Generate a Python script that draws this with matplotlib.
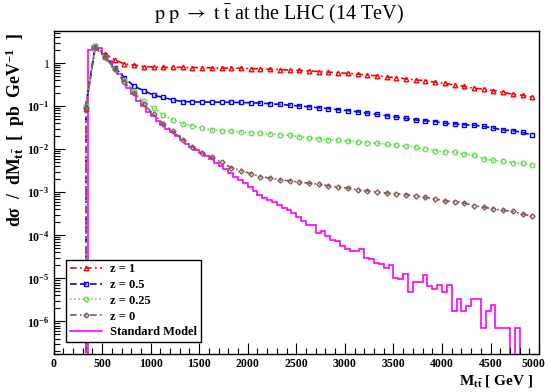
import matplotlib
matplotlib.use('Agg')
import matplotlib.pyplot as plt
import numpy as np
from matplotlib.ticker import FixedLocator, MultipleLocator, NullFormatter, FuncFormatter

plt.rcParams['font.family'] = ['Liberation Serif', 'DejaVu Serif']
plt.rcParams['mathtext.fontset'] = 'custom'
plt.rcParams['mathtext.rm'] = 'Liberation Serif:bold'
plt.rcParams['mathtext.it'] = 'Liberation Serif:bold'
plt.rcParams['mathtext.bf'] = 'Liberation Serif:bold'

# z curves: one point per 100 GeV
mass_z = np.arange(330, 5000, 100)
z1 = [0.085, 2.45, 1.65, 1.2, 0.95, 0.91, 0.83, 0.82, 0.80, 0.80,
      0.80, 0.79, 0.79, 0.78, 0.77, 0.77, 0.76, 0.75, 0.74, 0.72,
      0.71, 0.69, 0.68, 0.66, 0.64, 0.62, 0.60, 0.58, 0.56, 0.53,
      0.51, 0.48, 0.46, 0.43, 0.41, 0.39, 0.36, 0.34, 0.31, 0.29,
      0.26, 0.25, 0.23, 0.21, 0.19, 0.18, 0.16]
z05 = [0.098, 2.5, 1.42, 0.79, 0.46, 0.29, 0.23, 0.18, 0.16, 0.14,
       0.128, 0.126, 0.125, 0.124, 0.124, 0.123, 0.122, 0.120, 0.118, 0.114,
       0.110, 0.106, 0.101, 0.097, 0.092, 0.088, 0.083, 0.079, 0.074, 0.069,
       0.065, 0.060, 0.056, 0.052, 0.048, 0.0455, 0.044, 0.040, 0.039, 0.037,
       0.036, 0.034, 0.031, 0.028, 0.027, 0.0245, 0.0215]
z025 = [0.1, 2.45, 1.4, 0.75, 0.41, 0.22, 0.13, 0.09, 0.063, 0.048,
        0.039, 0.035, 0.031, 0.028, 0.027, 0.026, 0.025, 0.024, 0.0235, 0.0226,
        0.022, 0.021, 0.0195, 0.0185, 0.0175, 0.0167, 0.016, 0.0156, 0.015, 0.0143,
        0.0138, 0.013, 0.0124, 0.0118, 0.0112, 0.0102, 0.0093, 0.0088, 0.0086, 0.0077,
        0.0072, 0.006, 0.0055, 0.0052, 0.0049, 0.0047, 0.0043]
z0 = [0.09, 2.3, 1.4, 0.72, 0.36, 0.2, 0.11, 0.065, 0.039, 0.026,
      0.0164, 0.0115, 0.0081, 0.0065, 0.005, 0.0037, 0.0032, 0.0027, 0.0023, 0.00214,
      0.00192, 0.00186, 0.00171, 0.00163, 0.00154, 0.00141, 0.00132, 0.00125, 0.00115, 0.00108,
      0.00101, 0.00096, 0.00093, 0.00088, 0.00083, 0.00076, 0.0007, 0.00063, 0.00061, 0.00056,
      0.00049, 0.00045, 0.00041, 0.00038, 0.00036, 0.00031, 0.00028]

# Standard Model histogram, 50 GeV bins from 350 to 5000
sm_edges = np.arange(350, 5001, 50)
sm = [2.0, 2.5, 2.2, 1.6, 1.15, 0.8, 0.55, 0.38, 0.27, 0.19,
      0.135, 0.1, 0.075, 0.058, 0.046, 0.037, 0.030, 0.025, 0.020, 0.0165,
      0.0135, 0.0115, 0.0095, 0.0080, 0.0068, 0.0058, 0.0049, 0.0041, 0.0034, 0.0028,
      0.0023, 0.0019, 0.0016, 0.0013, 0.0011, 0.00085, 0.00072, 0.00066, 0.00058, 0.0005,
      0.00043, 0.00039, 0.00033, 0.00026, 0.00022, 1.74e-4, 1.74e-4, 1.15e-4, 1.27e-4, 9.7e-5,
      7.8e-5, 7.3e-5, 5.6e-5, 4.7e-5, 4.3e-5, 4.3e-5, 4.8e-5, 3.0e-5, 2.8e-5, 2.3e-5,
      2.2e-5, 1.7e-5, 2.0e-5, 1.0e-5, 9.5e-6, 1.26e-5, 4.7e-6, 8.1e-6, 8.1e-6, 1.2e-5,
      6.5e-6, 5.7e-6, 6.9e-6, 4.7e-6, 6.9e-6, 1.7e-6, 3.3e-6, 1.7e-6, 2.3e-6, 3.3e-6,
      3.3e-6, 7.2e-7, 1.7e-6, 2.4e-6, 7.2e-7, 7.2e-7, 7.2e-7, 0, 7.2e-7, 0,
      0, 0, 0]

ytick_vals = [1e-6, 1e-5, 1e-4, 1e-3, 1e-2, 1e-1, 1]
ytick_labels = ['$10^{-6}$', '$10^{-5}$', '$10^{-4}$', '$10^{-3}$', '$10^{-2}$', '$10^{-1}$', '1']

xmax = 5000
ymin, ymax = 1.75e-7, 5.6

fig = plt.figure(figsize=(5.49, 3.92), dpi=100)
ax = fig.add_axes([0.0975, 0.097, 0.8845, 0.824])

curves = [
    (z1, 'z = 1', '#ff0000', (0, (4, 2, 1, 2)), '^'),
    (z05, 'z = 0.5', '#0000ff', (0, (4, 2)), 's'),
    (z025, 'z = 0.25', '#66dd55', (0, (1, 1.5)), 'o'),
    (z0, 'z = 0', '#8b5a5a', (0, (4, 2, 1, 2, 1, 2)), 'D'),
]
for vals, lab, col, ls, mk in curves:
    ax.plot(mass_z, vals, color=col, ls=ls, lw=1.2, marker=mk,
            ms=3.3 if mk != 'D' else 2.6, mfc='none', mec=col, mew=1.0, label=lab)
    ax.vlines(mass_z[0], ymin * 0.1, vals[0], colors=col, linestyles=ls, lw=1.2)

sm_plot = np.where(np.array(sm) > 0, sm, 1e-12)
ax.stairs(sm_plot, sm_edges, baseline=1e-12, color='#ff00ff', lw=1.2, label='Standard Model')

ax.set_yscale('log')
ax.set_xlim(0, xmax)
ax.set_ylim(ymin, ymax)

ax.yaxis.set_major_locator(FixedLocator(ytick_vals))
ax.set_yticklabels(ytick_labels)
ax.yaxis.set_minor_locator(matplotlib.ticker.LogLocator(base=10, subs=np.arange(2, 10)))
ax.yaxis.set_minor_formatter(NullFormatter())
ax.xaxis.set_major_locator(MultipleLocator(500))
ax.xaxis.set_minor_locator(MultipleLocator(100))
# last label (5000) is drawn separately so it stays inside the canvas
ax.xaxis.set_major_formatter(FuncFormatter(lambda v, p: '' if v >= xmax else '%d' % v))

ax.tick_params(which='both', direction='in', top=False, right=False, labelsize=8.5)
ax.tick_params(which='major', length=8, width=0.8, pad=3)
ax.tick_params(which='minor', length=4, width=0.8)
for lbl in ax.get_xticklabels():
    lbl.set_fontweight('bold')
ax.annotate('%d' % xmax, xy=(xmax, 0), xycoords=('data', 'axes fraction'),
            xytext=(-4, -3.2), textcoords='offset points', ha='center', va='top',
            fontsize=8.5, fontweight='bold')
for sp in ax.spines.values():
    sp.set_linewidth(1.0)

leg = ax.legend(loc='lower left', bbox_to_anchor=(0.026, 0.037), borderaxespad=0,
                prop={'weight': 'bold', 'size': 9}, frameon=True, fancybox=False, framealpha=1,
                edgecolor='black', handlelength=2.6, labelspacing=0.3,
                borderpad=0.3, handletextpad=0.6)
leg.get_frame().set_linewidth(1.0)

fig.text(0.509, 0.964, r'$\mathrm{p\ p\ \rightarrow\ t\ \bar{t}}$ at the LHC (14 TeV)',
         ha='center', va='center', fontsize=14.5, math_fontfamily='stix')
fig.text(0.027, 1 - 33 / 392, r'd$\sigma$  /  dM$_{t\bar{t}}$  [  pb  GeV$^{-1}$  ]',
         rotation=90, ha='center', va='top', fontsize=12.8, fontweight='bold')
fig.text(533 / 549, 1 - 381 / 392, r'M$_{t\bar{t}}$ [ GeV ]', ha='right', va='center',
         fontsize=11, fontweight='bold')

fig.savefig('out.png', dpi=100)
